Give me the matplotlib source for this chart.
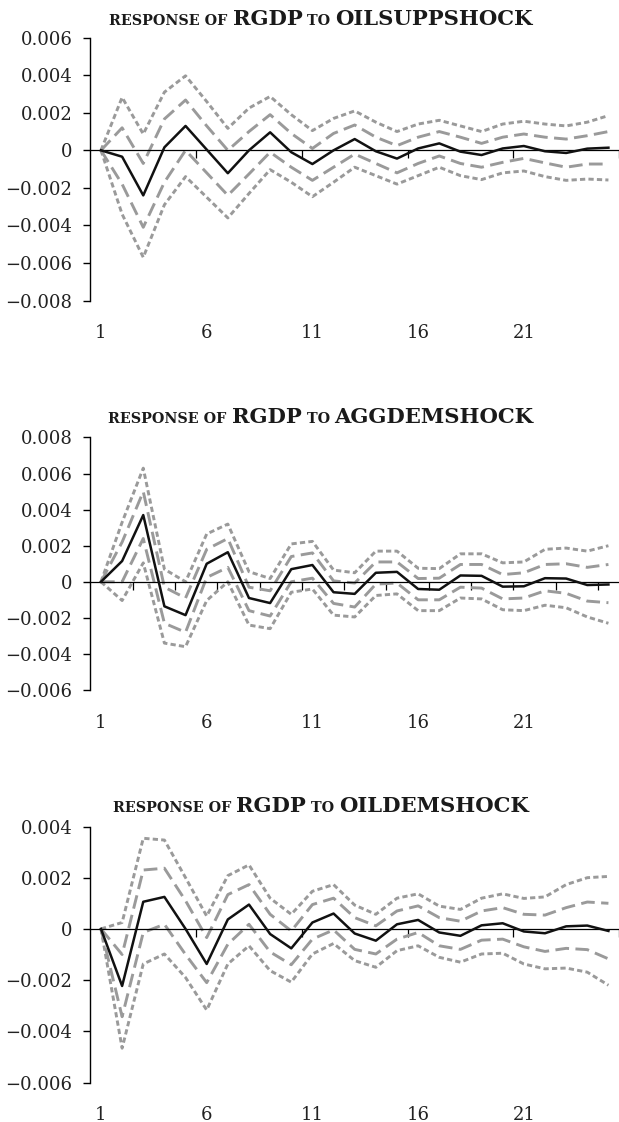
import matplotlib
matplotlib.use("Agg")
import matplotlib.pyplot as plt
from matplotlib.ticker import FixedLocator

periods = list(range(1, 26))

# ---------------- Panel 1: response of RGDP to OILSUPPSHOCK ----------------
title1 = ("RGDP", "OILSUPPSHOCK")
resp1 = [0, -0.00034, -0.0024, 0.00016, 0.0013, 0.00004, -0.00122, 0.0, 0.00096, -0.0001,
         -0.00073, 0.0, 0.0006, -0.00005, -0.00044, 0.0001, 0.00037, -0.00007, -0.00025, 0.0001,
         0.00023, -0.00005, -0.00014, 0.00009, 0.00014]
hi_dash1 = [0, 0.0012, -0.0007, 0.00167, 0.00268, 0.0013, 0.0, 0.001, 0.0019, 0.0009,
            0.0001, 0.0009, 0.00135, 0.0007, 0.00025, 0.0007, 0.001, 0.0007, 0.00037, 0.0007,
            0.00087, 0.0007, 0.0006, 0.00078, 0.001]
lo_dash1 = [0, -0.0018, -0.0041, -0.0017, 0.0, -0.0012, -0.0024, -0.00126, -0.0001, -0.0009,
            -0.0016, -0.0009, -0.0002, -0.0007, -0.0012, -0.0007, -0.0003, -0.0007, -0.0009, -0.00064,
            -0.00043, -0.00067, -0.0009, -0.00073, -0.00073]
hi_dot1 = [0, 0.00282, 0.00087, 0.0031, 0.00397, 0.0026, 0.00117, 0.00225, 0.00287, 0.0019,
           0.00105, 0.0017, 0.0021, 0.0015, 0.001, 0.0014, 0.0016, 0.0013, 0.001, 0.0014,
           0.00155, 0.0014, 0.0013, 0.0015, 0.00185]
lo_dot1 = [0, -0.0034, -0.0057, -0.0029, -0.0014, -0.0025, -0.0036, -0.0023, -0.00103, -0.0017,
           -0.00247, -0.0017, -0.0009, -0.00135, -0.0018, -0.00135, -0.0009, -0.00135, -0.00156, -0.0012,
           -0.0011, -0.0014, -0.0016, -0.00153, -0.00158]
yticks1 = [-0.008, -0.006, -0.004, -0.002, 0.0, 0.002, 0.004, 0.006]
xmarks1 = [5.5, 10.5, 15.5, 20.5, 25.5]

# ---------------- Panel 2: response of RGDP to AGGDEMSHOCK ----------------
title2 = ("RGDP", "AGGDEMSHOCK")
resp2 = [0, 0.00115, 0.0037, -0.00136, -0.00185, 0.001, 0.00164, -0.0009, -0.00118, 0.0007,
         0.00093, -0.00058, -0.00067, 0.0005, 0.00055, -0.0004, -0.00044, 0.00035, 0.00033, -0.00027,
         -0.00025, 0.0002, 0.00018, -0.00018, -0.00015]
hi_dash2 = [0, 0.0022, 0.0050, -0.0003, -0.0009, 0.0018, 0.0024, -0.0003, -0.0005, 0.0014,
            0.0016, 0.00005, -0.00007, 0.0011, 0.0011, 0.00018, 0.0002, 0.00096, 0.00096, 0.0004,
            0.0005, 0.00096, 0.001, 0.0008, 0.00096]
lo_dash2 = [0, 0.0, 0.0024, -0.0023, -0.0028, 0.00024, 0.0008, -0.0016, -0.0019, 0.0,
            0.0002, -0.0012, -0.0014, -0.00013, -0.00007, -0.001, -0.001, -0.0003, -0.00035, -0.00095,
            -0.0009, -0.0005, -0.00064, -0.00107, -0.00116]
hi_dot2 = [0, 0.0033, 0.0063, 0.0007, 0.0, 0.00265, 0.0032, 0.00056, 0.00018, 0.0021,
           0.00224, 0.00065, 0.0005, 0.0017, 0.0017, 0.00075, 0.00073, 0.00155, 0.00155, 0.00105,
           0.0011, 0.0018, 0.00187, 0.0017, 0.002]
lo_dot2 = [0, -0.00104, 0.00105, -0.0034, -0.0036, -0.00104, 0.0, -0.0024, -0.0026, -0.00058,
           -0.0004, -0.00185, -0.00195, -0.00076, -0.00067, -0.0016, -0.0016, -0.0009, -0.00095, -0.00155,
           -0.0016, -0.0013, -0.00144, -0.00195, -0.0023]
yticks2 = [-0.006, -0.004, -0.002, 0.0, 0.002, 0.004, 0.006, 0.008]
xmarks2 = [2.5, 4.5, 6.5, 8.5, 10.5, 12.5, 14.5, 16.5, 18.5, 20.5, 22.5, 24.5]

# ---------------- Panel 3: response of RGDP to OILDEMSHOCK ----------------
title3 = ("RGDP", "OILDEMSHOCK")
resp3 = [0, -0.00223, 0.00106, 0.00125, 0.0, -0.00137, 0.00037, 0.00095, -0.0002, -0.00076,
         0.00025, 0.0006, -0.00018, -0.00046, 0.00018, 0.00035, -0.00014, -0.00027, 0.00014, 0.00022,
         -0.0001, -0.00017, 0.0001, 0.00013, -0.00008]
hi_dash3 = [0, -0.001, 0.0023, 0.00237, 0.0011, -0.00034, 0.00134, 0.00173, 0.00057, -0.00008,
            0.00095, 0.0012, 0.00044, 0.00012, 0.0007, 0.0009, 0.00044, 0.0003, 0.0007, 0.00083,
            0.00057, 0.00054, 0.00083, 0.00105, 0.001]
lo_dash3 = [0, -0.00343, -0.00014, 0.00018, -0.001, -0.0021, -0.0006, 0.00018, -0.0009, -0.0014,
            -0.0004, -0.00004, -0.0008, -0.00098, -0.0004, -0.00014, -0.00066, -0.0008, -0.00044, -0.0004,
            -0.0007, -0.00088, -0.00076, -0.00081, -0.00117]
hi_dot3 = [0, 0.00025, 0.00354, 0.00347, 0.002, 0.0005, 0.00208, 0.0025, 0.0012, 0.00057,
           0.00147, 0.00173, 0.00093, 0.00057, 0.0012, 0.00137, 0.00089, 0.00076, 0.0012, 0.00137,
           0.00119, 0.00125, 0.00173, 0.002, 0.00205]
lo_dot3 = [0, -0.00466, -0.00137, -0.00098, -0.0019, -0.00317, -0.00137, -0.00066, -0.00163, -0.00208,
           -0.00098, -0.00057, -0.00124, -0.0015, -0.00085, -0.00066, -0.00111, -0.0013, -0.00098, -0.00095,
           -0.00137, -0.00156, -0.00153, -0.00169, -0.0022]
yticks3 = [-0.006, -0.004, -0.002, 0.0, 0.002, 0.004]
xmarks3 = [5.5, 10.5, 15.5, 20.5, 25.5]

xlabels = [1, 6, 11, 16, 21]

# ---------------- drawing ----------------
W, H = 619, 1122
DPI = 100
fig = plt.figure(figsize=(W / DPI, H / DPI), dpi=DPI)
fig.patch.set_facecolor("white")

SERIF = "DejaVu Serif"
GRAY = "#9a9a9a"
TICK_FS = 13


def fmt(v):
    if abs(v) < 1e-12:
        return "0"
    return ("%.3f" % v).replace("-", "\u2212")


# axes geometry in pixels: (top, bottom, title baseline)
geoms = [(37.7, 300.5, 25.0), (437.5, 690.0, 423.3), (826.5, 1082.5, 812.0)]
LEFT_PX = 90.4

panels = [
    (title1, resp1, hi_dash1, lo_dash1, hi_dot1, lo_dot1, yticks1, xmarks1),
    (title2, resp2, hi_dash2, lo_dash2, hi_dot2, lo_dot2, yticks2, xmarks2),
    (title3, resp3, hi_dash3, lo_dash3, hi_dot3, lo_dot3, yticks3, xmarks3),
]

renderer = fig.canvas.get_renderer()

for (title, resp, hd, ld, ho, lo, yt, xm), (top, bot, tb) in zip(panels, geoms):
    ax = fig.add_axes([LEFT_PX / W, 1 - bot / H, 1 - LEFT_PX / W, (bot - top) / H])
    ax.set_facecolor("none")
    ax.set_xlim(0.5, 25.5)
    ax.set_ylim(yt[0], yt[-1])

    for s in ("top", "right"):
        ax.spines[s].set_visible(False)
    ax.spines["left"].set_linewidth(1.0)
    ax.spines["bottom"].set_position(("data", 0))
    ax.spines["bottom"].set_linewidth(0.9)

    ax.plot(periods, ho, color=GRAY, lw=2.1, dashes=(1.8, 1.1))
    ax.plot(periods, lo, color=GRAY, lw=2.1, dashes=(1.8, 1.1))
    ax.plot(periods, hd, color=GRAY, lw=2.1, dashes=(4.7, 2.2))
    ax.plot(periods, ld, color=GRAY, lw=2.1, dashes=(4.7, 2.2))
    ax.plot(periods, resp, color="#111111", lw=1.8, zorder=5)

    # y axis
    ax.set_yticks(yt)
    ax.set_yticklabels([fmt(v) for v in yt], fontfamily=SERIF, fontsize=TICK_FS, color="#222222")
    ax.tick_params(axis="y", direction="out", length=5, width=1.0, pad=8)

    # x axis line at zero with tick marks, labels at the bottom
    ax.xaxis.set_major_locator(FixedLocator(xm))
    ax.set_xticklabels([])
    ax.tick_params(axis="x", direction="out", length=6, width=0.9)
    sec = ax.secondary_xaxis(0.0)
    sec.set_xticks(xlabels)
    sec.set_xticklabels([str(v) for v in xlabels], fontfamily=SERIF, fontsize=TICK_FS, color="#222222")
    sec.tick_params(axis="x", length=0, pad=17)
    sec.spines["bottom"].set_visible(False)

    # title with small caps, centred near x=320px
    pieces = [("RESPONSE OF ", 10.3), (title[0], 15.2), (" TO ", 10.3), (title[1], 15.2)]
    texts = []
    widths = []
    for s, fs in pieces:
        t = fig.text(0, 1 - tb / H, s, fontfamily=SERIF, fontsize=fs, va="baseline", ha="left",
                     color="#1a1a1a", fontweight="bold")
        texts.append(t)
        widths.append(t.get_window_extent(renderer=renderer).width)
    total = sum(widths)
    x0 = 321.0 - total / 2.0
    for t, w in zip(texts, widths):
        t.set_x(x0 / W)
        x0 += w

fig.savefig("out.png", dpi=DPI, facecolor="white")
